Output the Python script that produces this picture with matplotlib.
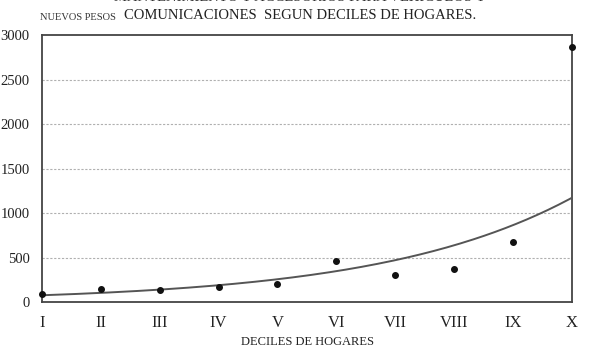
import numpy as np
import matplotlib
matplotlib.use("Agg")
import matplotlib.pyplot as plt

deciles = ["I", "II", "III", "IV", "V", "VI", "VII", "VIII", "IX", "X"]
gasto = [86, 142, 134, 168, 198, 466, 298, 373, 679, 2864]
y_ticks = [0, 500, 1000, 1500, 2000, 2500, 3000]

title_line1 = "MANTENIMIENTO Y ACCESORIOS PARA VEHICULOS Y"
title_line2 = "COMUNICACIONES  SEGUN DECILES DE HOGARES."
y_label = "NUEVOS PESOS"
x_label = "DECILES DE HOGARES"

plt.rcParams['font.family'] = ['Liberation Serif', 'DejaVu Serif']

fig = plt.figure(figsize=(6.0, 3.51), dpi=100)
ax = fig.add_axes([0.070, 0.1396, 0.883, 0.7604])

x = np.arange(1, len(deciles) + 1)
# exponential trendline fitted to the data
b, ln_a = np.polyfit(x, np.log(gasto), 1)
xs = np.linspace(1, len(deciles), 200)
ax.plot(xs, np.exp(ln_a + b * xs), color="#555555", lw=1.4, zorder=3)
ax.scatter(x, gasto, s=16, color="#111111", zorder=4, clip_on=False)

ax.set_xlim(1, len(deciles))
ax.set_ylim(0, 3000)
ax.set_xticks(x)
ax.set_xticklabels(deciles, fontsize=12)
ax.set_yticks(y_ticks)
ax.set_yticklabels([str(v) for v in y_ticks], fontsize=10.5)
ax.tick_params(axis='both', length=0, colors="#222222")
ax.tick_params(axis='y', pad=9)
ax.tick_params(axis='x', pad=9)

for v in y_ticks[1:-1]:
    ax.axhline(v, color="#b0b0b0", lw=0.8, ls=(0, (2, 1.5)), zorder=1)

for s in ax.spines.values():
    s.set_color("#444444")
    s.set_linewidth(1.3)

fig.text(0.50, 1.008, title_line1, ha="center", va="center", fontsize=10.5, color="#333333")
fig.text(0.50, 0.957, title_line2, ha="center", va="center", fontsize=10.5, color="#222222")
fig.text(0.067, 0.950, y_label, ha="left", va="center", fontsize=7.5, color="#333333")
fig.text(0.513, 0.026, x_label, ha="center", va="center", fontsize=9, color="#222222")

fig.savefig("out.png", dpi=100, facecolor="white")
